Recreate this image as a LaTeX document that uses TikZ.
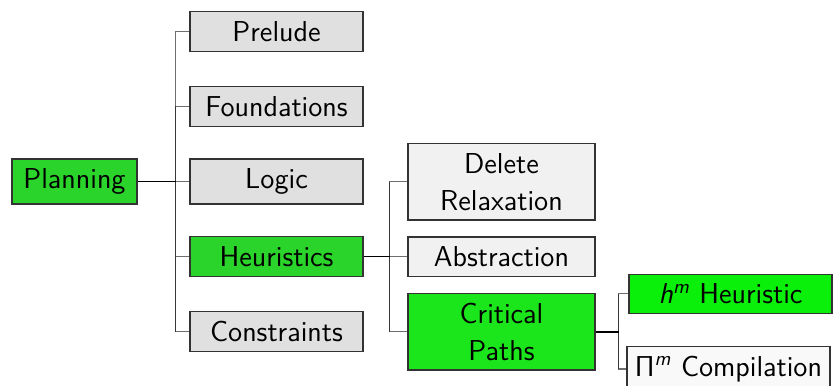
\documentclass[tikz,border=0pt]{standalone}
\usepackage{tikz}
\definecolor{gA}{RGB}{42,212,42}
\definecolor{gB}{RGB}{27,230,27}
\definecolor{gC}{RGB}{10,240,10}
\definecolor{yA}{RGB}{224,224,224}
\definecolor{yB}{RGB}{241,241,241}
\definecolor{yC}{RGB}{249,249,249}
\definecolor{edgegray}{RGB}{110,110,110}
\definecolor{trunkgray}{RGB}{55,55,55}
\begin{document}
\begin{tikzpicture}[x=0.5pt,y=-0.5pt,
  box/.style={draw=black!80, line width=0.6pt, inner xsep=2pt, inner ysep=4.75pt,
    font=\sffamily\fontsize{14.4}{18.5}\selectfont, align=center, anchor=center},
  lzero/.style={box, minimum width=62.5pt},
  lone/.style={box, minimum width=86.5pt},
  ltwo/.style={box, minimum width=93.5pt},
  lthree/.style={box, minimum width=101.5pt},
  plain/.style={draw=edgegray, line width=0.6pt},
  trunk/.style={draw=trunkgray, line width=0.65pt},
  hot/.style={draw=black, line width=0.9pt}]
\useasboundingbox (0,0) rectangle (834,385);
\clip (0,0) rectangle (834,385);
% nodes
\node[lzero, fill=gA] (planning) at (74.5,181.5) {Planning};
\node[lone, fill=yA] (prelude) at (276.5,31.5) {Prelude};
\node[lone, fill=yA] (found) at (276.5,106.5) {Foundations};
\node[lone, fill=yA] (logic) at (276.5,181.5) {Logic};
\node[lone, fill=gA] (heur) at (276.5,256.5) {Heuristics};
\node[lone, fill=yA] (constr) at (276.5,331.5) {Constraints};
\node[ltwo, fill=yB] (delete) at (501.5,181.8) {Delete\\Relaxation};
\node[ltwo, fill=yB] (abstr) at (501.5,256.6) {Abstraction};
\node[ltwo, fill=gB] (crit) at (501.5,331.6) {Critical\\Paths};
\node[lthree, fill=gC] (hm) at (730.5,293.8) {\textit{h}\textsuperscript{\itshape m} Heuristic};
\node[lthree, fill=yC] (pim) at (728.5,369) {$\mathsf{\Pi}$\textsuperscript{\itshape m} Compilation};
% edges (stubs)
\draw[plain] (planning.east) -- ++(38,0) coordinate (ja) |- (prelude.west);
\draw[plain] (ja) |- (found.west);
\draw[plain] (ja) |- (logic.west);
\draw[plain] (ja) |- (heur.west);
\draw[plain] (ja) |- (constr.west);
\draw[plain] (heur.east) -- ++(26,0) coordinate (jb) |- (delete.west);
\draw[plain] (jb) |- (abstr.west);
\draw[plain] (jb) |- (crit.west);
\draw[plain] (crit.east) -- ++(23,0) coordinate (jc) |- (hm.west);
\draw[plain] (jc) |- (pim.west);
% trunks
\draw[trunk] (ja |- found.west) -- (ja |- constr.west);
\draw[trunk] (jb |- delete.west) -- (jb |- crit.west);
\draw[trunk] (jc |- hm.west) -- (jc |- pim.west);
% parent segments
\draw[hot] (planning.east) -- (ja);
\draw[hot] (heur.east) -- (jb);
\draw[hot] (crit.east) -- (jc);
\end{tikzpicture}
\end{document}
